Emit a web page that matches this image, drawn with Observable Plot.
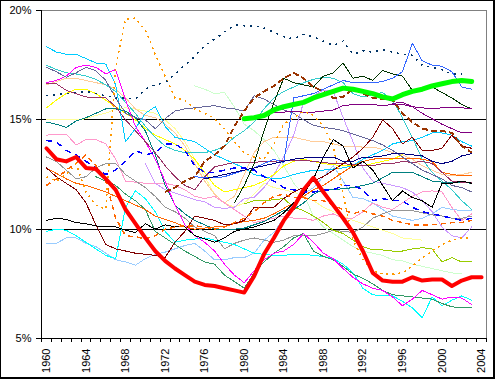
<!DOCTYPE html>
<html><head><meta charset="utf-8">
<script src="https://cdn.jsdelivr.net/npm/d3@7"></script>
<script src="https://cdn.jsdelivr.net/npm/@observablehq/plot@0.6"></script>
<style>
html,body{margin:0;padding:0;background:#fff;}
#frame{width:495px;height:379px;box-sizing:border-box;border-style:solid;border-color:#000;border-width:1px 2px 2px 1px;overflow:hidden;background:#fff;}
</style></head><body><div id="frame"></div>
<script>
// tick labels / categories
const yTicks = [5, 10, 15, 20];
const xLabelYears = [1960, 1964, 1968, 1972, 1976, 1980, 1984, 1988, 1992, 1996, 2000, 2004];
const yearBounds = d3.range(1959.5, 2005, 1);

// series values (percent), each starting at the given first year
const sSkyBlue = [18.35,18.1,18.0,18.0,17.8,17.6,17.55,16.6,14.0,14.6,
 15.3,15.6,14.7,14.2,14.1,14.0,13.7,13.4,13.2,13.0,
 12.8,12.5,12.4,12.3,12.35,12.5,12.6,12.7,12.7,12.75,
 12.8,12.9,13.2,13.4,13.6,13.9,14.0,14.05,14.2,14.4,
 14.4,14.3,14.0,13.8];
const sCyan = [9.9,10.0,9.95,9.7,9.4,9.1,8.8,8.65,11.0,11.75,
 11.4,10.8,9.9,9.4,9.5,9.55,9.6,9.5,9.4,9.3,
 9.1,8.9,8.85,8.8,8.8,8.85,8.85,8.8,8.75,8.65,
 8.4,8.0,7.3,7.0,6.95,6.95,6.7,6.4,5.95,6.9,
 6.5,6.75,6.95,6.75];
const sAqua = [17.5,17.3,17.15,17.1,17.0,16.85,16.6,16.3,15.8,15.3,
 14.7,14.2,13.8,13.6,13.5,13.5,13.5,13.6,13.8,14.2,
 14.5,14.9,15.5,16.0,16.3,16.5,16.7,16.85,16.95,16.9,
 16.7,16.2,16.05,16.15,16.25,15.9,15.1,14.2,13.2,12.6,
 12.2,11.8,11.3,10.9];
const sTeal = [14.9,14.8,14.65,14.95,15.1,15.3,15.5,15.5,15.4,15.1,
 14.5,13.4,12.0,11.1,10.7,10.4,10.2,10.0,10.0,10.0,
 10.05,10.2,10.35,10.6,10.85,10.9,11.2,11.6,11.8,11.8,
 11.85,11.9,12.0,12.1,12.35,12.6,12.6,12.6,12.4,12.2,
 12.15,12.15,12.15,12.1];
const sSeaGreen = [12.4,12.2,12.0,11.6,11.3,
 10.9,9.9,9.6,9.3,9.0,8.75,8.5,8.4,7.9,7.6,
 7.3,8.0,8.5,8.9,9.2,9.6,9.8,9.0,8.75,8.6,
 8.3,7.95,7.75,7.5,7.2,7.0,6.95,6.9,6.85,6.8,
 6.6,6.45,6.4,6.4];
const sMagenta = [16.7,16.8,17.0,17.4,17.5,17.4,17.1,17.3,15.9,14.7,
 14.0,13.2,12.2,11.1,10.2,9.7,9.4,9.0,8.4,7.9,
 7.55,8.1,8.6,8.9,9.0,9.3,9.8,9.4,8.9,8.65,
 8.2,7.8,7.5,7.3,7.2,6.9,6.5,6.8,7.2,7.0,
 6.8,6.9,6.85,6.55];
const sYellow = [15.55,15.9,16.2,16.4,16.4,16.2,15.9,15.6,15.3,15.0,
 14.6,14.3,14.1,13.9,13.6,13.2,12.6,12.0,11.7,11.8,
 11.9,12.0,12.2,12.5,12.9,13.1,13.2,13.1,13.0,12.95,
 12.9,12.9,12.9,13.0,13.1,13.2,13.4];
const sLightYellow = [15.0,15.0,15.0,15.0,15.05,15.2,15.3,15.5,15.55,15.5,
 15.4,15.3,15.0,14.6,14.0,13.2,12.4,11.6,11.2,11.0,
 11.2,11.6,12.1,11.9,11.8,11.7,11.5,11.3,11.0,10.8,
 10.6,10.4,10.25,10.1,9.95,9.8,9.6,9.55,9.5];
const sTan = [16.6,16.75,16.9,16.9,16.8,16.7,16.6,16.4,16.0,15.5,
 15.2,15.1,14.8,14.4,13.8,13.0,12.2,11.6,11.2,11.5,
 12.5,13.5,14.0,14.2,14.2,14.2,14.1,14.0,14.0,13.9,
 13.8,13.8,13.75,13.75,13.65,13.5,13.4,13.2,12.9,12.7,
 12.5,12.45,12.5,12.6];
const sPink = [14.3,14.35,14.35,13.85,14.1,14.1,13.9,13.2,12.2,12.15,
 12.1,12.1,12.1,12.0,11.8,11.5,11.4,11.5,11.2,10.9,
 10.6,10.3,10.4,10.5,10.6,10.5,10.5,10.4,10.6,10.7,
 10.5,10.5,10.8,11.2,11.0,10.9,11.2,11.5,11.7,11.75,
 11.7,11.0,10.4,10.7];
const sLavender = [13.0,12.1,11.8,11.65,11.5,11.35,11.25,11.0,10.95,11.0,
 11.4,11.45,11.9,12.5,13.3,14.3,15.8,16.1,16.35,16.3,
 15.1,14.0,12.8,12.2,12.1,12.0,11.9,11.7,11.3,10.8,
 10.1,9.7,9.6,10.1];
const sLime = [11.15,11.3,11.3,11.35,11.4,11.0,10.85,10.6,10.3,9.95,
 9.8,9.5,9.2,9.05,9.05,9.0,9.0,9.1,9.15,9.1,
 8.5,8.7,8.5,8.5];
const sLightGreen = [16.55,16.4,16.2,16.25,15.6,
 14.8,14.5,14.1,13.6,12.9,12.1,11.6,10.6,10.1,9.8,
 9.5,9.2,9.0,8.9,8.8,8.6,8.55,8.4,8.3,8.2,
 8.1,8.0,7.95];
const sPaleBlue = [9.35,9.35,9.6,9.6,9.35,9.2,8.9,8.6,8.5,8.35,
 8.65,8.85,8.95,9.1,9.25,9.35,9.0,8.6,8.6,8.7,
 8.7,8.9,9.5,9.85,10.5,11.2,11.6,11.9,12.4,12.9,
 12.2,11.45,11.4,11.2,10.9,10.6,10.5,10.4,10.5,10.7,
 11.0,10.9,10.85,10.85];
const sOrange = [12.8,12.55,12.3,12.1,12.0,11.85,11.7,11.5,11.3,11.1,
 10.9,10.6,10.45,10.3,10.1,10.0,10.05,10.1,10.1,10.25,
 10.35,10.4,10.5,10.7,10.95,11.2,11.5,11.8,12.0,12.3,
 12.6,12.9,13.1,13.2,13.25,13.25,13.25,13.25,13.2,13.1,
 12.6,12.5,12.45,12.45];
const sPlum = [16.65,16.65,16.35,16.2,16.05,16.0,16.0,15.6,15.0,14.5,
 14.0,13.5,12.9,12.4,12.0,11.8,12.4,12.85,12.95,13.05,
 13.05,13.05,13.1,13.1,13.15,13.15,13.15,13.1,13.05,13.0,
 13.0,12.95,12.9,12.9,13.0,13.0,13.1,13.05,13.1,13.0,
 12.6,12.2,12.15,12.15];
const sMaroon = [12.8,12.4,12.1,11.8,11.2,10.2,9.3,9.1,9.0,8.9,
 8.85,8.8,8.7,9.4,9.9,10.6,10.5,10.4,10.2,10.25,
 10.4,11.0,11.0,11.0,11.4,11.7,11.9,12.2,12.4,12.7,
 13.0,13.3,13.7,14.2,15.0,14.6,13.9,14.2,13.6,13.6,
 13.7,14.3,13.8,13.7];
const sBlueGray = [17.4,17.2,16.95,17.15,17.4,17.25,16.8,16.0,15.3,15.1,
 15.0,14.6,15.05,15.4,15.5,15.55,15.6,15.65,15.55,15.5,
 15.4,16.1,15.95,15.7,15.45,15.3,15.0,14.75,14.65,14.6,
 14.5,14.35,14.2,14.05,13.85,13.6,13.3,13.0,12.7,12.5,
 12.3,12.0,11.9,11.7];
const sGray = [13.3,13.1,12.7,12.3,12.4,12.8,13.0,13.0,12.5,12.2,
 11.9,11.5,11.0,10.8,10.5,10.1,9.9,9.7,9.1,9.35,
 9.5,9.6,9.5,9.4,9.5,9.7,9.7,9.7,9.8,9.95,
 9.9,9.85,10.1,10.5,10.7,10.85,10.85,10.85,10.75,10.65,
 10.6,10.5,10.5,10.6];
const sBlack = [10.4,10.5,10.45,10.3,10.25,10.15,10.1,10.1,9.95,9.85,
 10.25,10.0,10.2,10.1,10.1,9.7,9.55,9.4,9.6,9.9,
 10.0,10.1,10.25,10.4,10.75,11.2,11.6,12.3,13.3,14.1,
 13.8,12.8,13.1,12.7,12.0,11.3,11.75,11.45,11.3,11.0,
 12.1,12.1,12.2,12.1];
const sDarkGreen = [11.2,12.0,13.0,14.5,15.8,16.9,16.7,16.6,16.5,17.0,
 17.15,17.6,16.9,17.0,16.8,17.25,17.1,17.0,16.35,16.35,
 16.5,16.25,16.0,15.7,15.5];
const sBlue = [12.4,12.35,12.35,12.4,12.55,
 12.7,12.8,13.0,13.2,13.05,16.0,16.1,16.2,16.4,16.6,
 16.8,16.7,16.7,16.7,16.75,16.9,17.2,18.5,17.7,17.5,
 17.45,17.2,16.5,16.4];
const sNavy = [12.3,12.4,12.5,12.6,
 12.7,12.8,12.9,13.0,13.1,13.2,13.25,13.3,13.3,13.3,
 13.1,13.1,13.3,13.3,13.35,13.45,13.45,13.4,13.35,13.1,
 13.0,13.1,13.35,13.45];
const sPurple = [15.0,15.05,15.3,15.35,15.35,15.4,15.35,15.35,15.4,15.45,
 15.65,15.7,15.7,15.7,15.65,15.7,15.7,15.6,15.55,15.5,
 15.55,15.55,15.55,15.5];
const sPurple2 = [15.75,15.8,15.6,15.3,15.05,14.8,14.6,14.4,14.4];
const sOrangeDash = [12.0,12.3,12.7,13.0,13.4,12.9,12.2,10.5,9.7,9.65,
 9.55,9.7,10.0,10.1,10.15,10.15,10.1,10.0,10.1,10.3,
 10.5,10.8,11.2,11.5,11.6,11.45,11.45,11.3,11.3,11.1,
 10.9,10.7,10.85,10.7,10.6,10.4,10.3,10.2,10.2,10.2,
 10.25,10.3,10.3,10.4];
const sBlueDash = [14.05,14.0,13.6,13.4,13.1,12.8,12.5,12.7,13.1,13.6,
 13.4,13.5,13.9,13.9,13.6,12.9,12.6,12.6,12.7,12.8,
 12.8,12.7,12.4,12.2,11.9,11.8,11.7,11.7,11.8,11.8,
 12.0,12.0,11.8,11.3,11.4,11.3,11.3,11.0,10.8,10.7,
 10.6,10.5,10.4,10.5];
const sBrownDash = [11.7,11.9,12.2,12.4,13.1,13.4,13.8,14.7,
 15.4,16.0,16.3,16.55,16.9,17.15,16.9,16.5,16.3,16.0,
 16.05,16.4,16.2,16.0,15.95,15.9,15.3,14.9,14.6,14.5,
 14.5,14.4,13.8,13.5];
const sOrangeDot = [12.4,12.2,12.5,13.0,11.7,11.1,10.9,17.4,19.6,19.65,
 19.1,18.0,17.0,16.0,15.9,15.5,15.3,15.05,14.6,14.0,
 13.5,13.3,13.2,13.9,14.8,15.1,15.4,15.2,14.7,13.8,
 11.6,9.5,8.6,8.1,7.95,7.95,8.0,8.3,8.7,9.0,
 9.3,9.5,9.6,9.6];
const sNavyDot = [16.1,16.15,16.2,16.25,16.3,16.2,16.1,16.0,16.0,15.95,
 16.4,16.6,16.7,17.1,17.5,17.9,18.4,18.7,19.0,19.35,
 19.3,19.3,19.2,19.0,18.8,18.7,18.9,18.8,18.6,18.4,
 18.6,18.0,18.15,18.1,18.2,18.1,18.0,17.95,17.5,17.4,
 17.3,17.1,17.1];
const sGreen = [15.05,15.1,15.2,15.45,15.6,15.7,15.8,16.0,16.15,16.3,
 16.45,16.4,16.3,16.2,16.05,15.95,16.15,16.3,16.4,16.55,
 16.65,16.75,16.8,16.75];
const sRed = [13.7,13.2,13.1,13.3,12.8,12.75,12.3,11.8,10.9,10.25,
 9.6,9.0,8.55,8.2,7.9,7.6,7.45,7.4,7.3,7.2,
 7.1,7.85,8.85,9.6,10.4,11.0,11.8,12.35,11.7,11.1,
 10.5,9.85,9.0,8.0,7.65,7.6,7.6,7.8,7.65,7.7,
 7.7,7.4,7.65,7.8,7.8];

const defs = [
  {name:"paleBlue", start:1960, values:sPaleBlue, color:"#99CCFF", width:1},
  {name:"lightGreen", start:1975, values:sLightGreen, color:"#CCFFCC", width:1},
  {name:"lightYellow", start:1960, values:sLightYellow, color:"#FFFF99", width:1},
  {name:"tan", start:1960, values:sTan, color:"#FFCC99", width:1},
  {name:"pink", start:1960, values:sPink, color:"#FF99CC", width:1},
  {name:"lavender", start:1970, values:sLavender, color:"#CC99FF", width:1},
  {name:"yellow", start:1960, values:sYellow, color:"#FFFF00", width:1},
  {name:"gray", start:1960, values:sGray, color:"#969696", width:1},
  {name:"lime", start:1980, values:sLime, color:"#99CC00", width:1},
  {name:"skyBlue", start:1960, values:sSkyBlue, color:"#00CCFF", width:1},
  {name:"cyan", start:1960, values:sCyan, color:"#00FFFF", width:1},
  {name:"aqua", start:1960, values:sAqua, color:"#33CCCC", width:1},
  {name:"teal", start:1960, values:sTeal, color:"#008080", width:1},
  {name:"seaGreen", start:1965, values:sSeaGreen, color:"#339966", width:1},
  {name:"magenta", start:1960, values:sMagenta, color:"#FF00FF", width:1},
  {name:"orange", start:1960, values:sOrange, color:"#FF6600", width:1},
  {name:"plum", start:1960, values:sPlum, color:"#993366", width:1},
  {name:"maroon", start:1960, values:sMaroon, color:"#800000", width:1},
  {name:"blueGray", start:1960, values:sBlueGray, color:"#666699", width:1},
  {name:"black", start:1960, values:sBlack, color:"#000000", width:1},
  {name:"darkGreen", start:1979, values:sDarkGreen, color:"#003300", width:1},
  {name:"blue", start:1975, values:sBlue, color:"#3366FF", width:1},
  {name:"navy", start:1976, values:sNavy, color:"#000080", width:1},
  {name:"purple", start:1980, values:sPurple, color:"#800080", width:1},
  {name:"purple2", start:1995, values:sPurple2, color:"#800080", width:1},
  {name:"orangeDash", start:1960, values:sOrangeDash, color:"#FF6600", width:1.5, dash:"5,4"},
  {name:"blueDash", start:1960, values:sBlueDash, color:"#0000FF", width:1.5, dash:"6,5"},
  {name:"brownDash", start:1972, values:sBrownDash, color:"#993300", width:2, dash:"6,3"},
  {name:"orangeDot", start:1960, values:sOrangeDot, color:"#FF9900", width:1.5, dash:"2,4"},
  {name:"navyDot", start:1960, values:sNavyDot, color:"#003366", width:1.5, dash:"2,5"},
  {name:"green", start:1980, values:sGreen, color:"#00FF00", width:5},
  {name:"red", start:1960, values:sRed, color:"#FF0000", width:4}
];

const rows = defs.flatMap(d => d.values.map((v, i) => ({series: d.name, year: d.start + i, value: v})));

const lineMarks = defs.map(d => Plot.line(rows.filter(r => r.series === d.name), {
  x: "year", y: "value", stroke: d.color, strokeWidth: d.width,
  strokeDasharray: d.dash, strokeLinecap: d.dash ? "butt" : "round", strokeLinejoin: "round",
  shapeRendering: d.width >= 4 ? "auto" : "crispEdges"
}));

const crisp = {shapeRendering: "crispEdges"};

const chart = Plot.plot({
  width: 492, height: 376,
  marginLeft: 40, marginRight: 7, marginTop: 9, marginBottom: 39,
  x: {type: "linear", domain: [1959.5, 2004.5], label: null},
  y: {type: "linear", domain: [5, 20], label: null},
  style: {fontFamily: "Arial, 'Liberation Sans', sans-serif", fontSize: "11px", color: "#000", background: "#fff", overflow: "visible"},
  marks: [
    Plot.ruleY([20], {stroke: "#808080", ...crisp}),
    Plot.ruleX([2004.5], {stroke: "#808080", ...crisp}),
    Plot.ruleY([10, 15], {stroke: "#000", ...crisp}),
    ...lineMarks,
    Plot.ruleX([1959.5], {stroke: "#000", ...crisp}),
    Plot.ruleY([5], {stroke: "#000", ...crisp}),
    Plot.axisY(yTicks, {tickSize: 5, tickPadding: 5, tickFormat: d => d + "%", label: null, ...crisp}),
    Plot.axisX(yearBounds, {tickSize: 4, tickFormat: () => "", label: null, ...crisp}),
    Plot.axisX(xLabelYears, {tickSize: 0, tickPadding: 10, tickRotate: -90, tickFormat: d => String(d), label: null})
  ]
});
document.getElementById("frame").appendChild(chart);
</script></body></html>
